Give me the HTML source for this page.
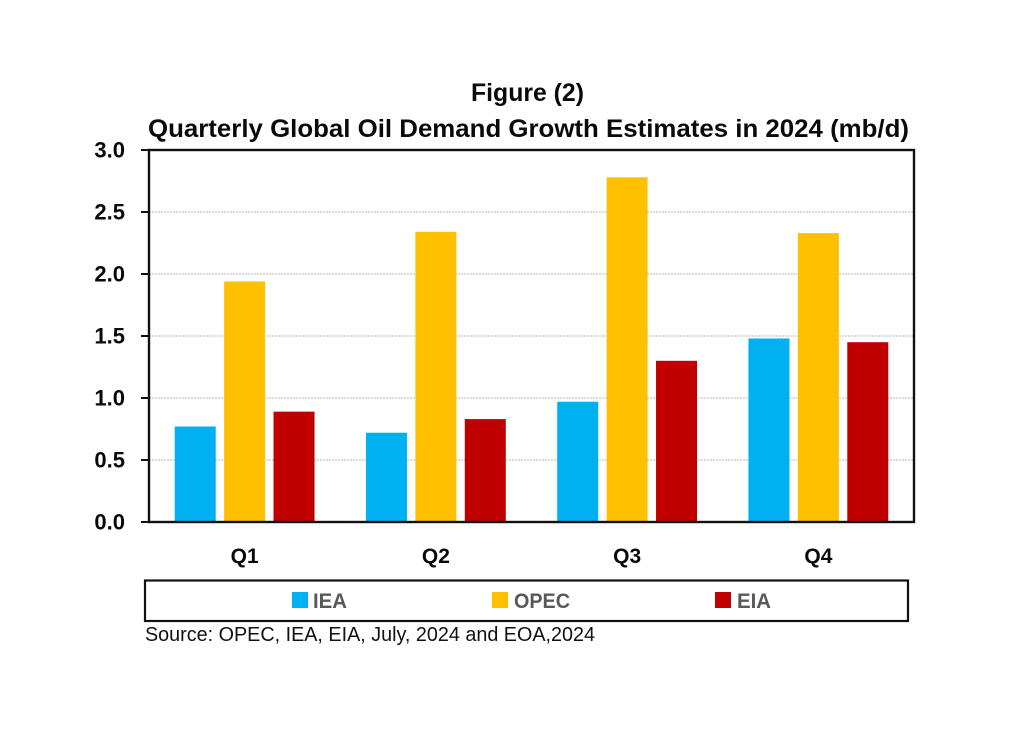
<!DOCTYPE html>
<html>
<head>
<meta charset="utf-8">
<title>Quarterly Global Oil Demand Growth Estimates in 2024</title>
<style>
html,body{margin:0;padding:0;background:#fff;}
svg{display:block;}
text{font-family:"Liberation Sans",sans-serif;}
</style>
</head>
<body>
<svg id="chart" width="1026" height="733" viewBox="0 0 1026 733" xmlns="http://www.w3.org/2000/svg">
  <text x="471" y="101" font-size="25" font-weight="700" fill="#0a0a0a" textLength="113" lengthAdjust="spacingAndGlyphs">Figure (2)</text>
  <text x="148" y="137" font-size="25" font-weight="700" fill="#0a0a0a" textLength="761" lengthAdjust="spacingAndGlyphs">Quarterly Global Oil Demand Growth Estimates in 2024 (mb/d)</text>
  <g id="plot"></g>
  <rect x="145" y="580.5" width="763" height="40.5" fill="#fff" stroke="#111" stroke-width="2.2"/>
  <g>
    <rect x="292" y="592" width="16" height="16" fill="#00b0f0"/>
    <text x="313" y="608" font-size="21" font-weight="700" fill="#595959" textLength="34" lengthAdjust="spacingAndGlyphs">IEA</text>
  </g>
  <g>
    <rect x="492" y="592" width="16" height="16" fill="#ffc000"/>
    <text x="514" y="608" font-size="21" font-weight="700" fill="#595959" textLength="56" lengthAdjust="spacingAndGlyphs">OPEC</text>
  </g>
  <g>
    <rect x="715" y="592" width="16" height="16" fill="#c00000"/>
    <text x="737" y="608" font-size="21" font-weight="700" fill="#595959" textLength="34" lengthAdjust="spacingAndGlyphs">EIA</text>
  </g>
  <text x="145" y="641" font-size="20.5" fill="#111" textLength="450" lengthAdjust="spacingAndGlyphs">Source: OPEC, IEA, EIA, July, 2024 and EOA,2024</text>
</svg>
<script>
var categories = ['Q1', 'Q2', 'Q3', 'Q4'];
var seriesNames = ['IEA', 'OPEC', 'EIA'];
var ieaValues = [0.77, 0.72, 0.97, 1.48];
var opecValues = [1.94, 2.34, 2.78, 2.33];
var eiaValues = [0.89, 0.83, 1.30, 1.45];
var yTickLabels = ['0.0', '0.5', '1.0', '1.5', '2.0', '2.5', '3.0'];

var plotLeft = 149, plotRight = 914, plotTop = 150, plotBottom = 522;
var yMax = 3;
var allSeries = [ieaValues, opecValues, eiaValues];
var colors = ['#00b0f0', '#ffc000', '#c00000'];
var NS = 'http://www.w3.org/2000/svg';
var plot = document.getElementById('plot');

function yScale(v) {
  return plotBottom - (v / yMax) * (plotBottom - plotTop);
}
function xBand(i) {
  return plotLeft + (i + 0.5) * (plotRight - plotLeft) / categories.length;
}
function make(tag, attrs) {
  var el = document.createElementNS(NS, tag);
  for (var k in attrs) el.setAttribute(k, attrs[k]);
  return el;
}

// gridlines
yTickLabels.forEach(function (label) {
  var v = parseFloat(label);
  if (v === 0 || v === yMax) return;
  var line = make('line', {x1: plotLeft, x2: plotRight, y1: yScale(v), y2: yScale(v), stroke: '#cfcfcf', 'stroke-width': 1.5, 'stroke-dasharray': '2 1'});
  
  
  plot.appendChild(line);
});

// bars
var barWidth = 41, barStep = 49.4;
categories.forEach(function (cat, i) {
  allSeries.forEach(function (vals, s) {
    var cx = xBand(i) + (s - 1) * barStep;
    var top = yScale(vals[i]);
    var bar = make('rect', {x: cx - barWidth / 2, y: top, width: barWidth, height: plotBottom - top, fill: colors[s]});
    
    
    plot.appendChild(bar);
  });
  var lab = make('text', {x: xBand(i), y: 563, 'text-anchor': 'middle', 'font-size': 21, 'font-weight': 700, fill: '#0a0a0a'});
  
  
  lab.textContent = cat;
  plot.appendChild(lab);
});

// frame
var frame = make('rect', {x: plotLeft, y: plotTop, width: plotRight - plotLeft, height: plotBottom - plotTop, fill: 'none', stroke: '#111', 'stroke-width': 2.4});


plot.appendChild(frame);

// y ticks and labels
yTickLabels.forEach(function (label) {
  var v = parseFloat(label);
  var tick = make('line', {x1: 141, x2: plotLeft, y1: yScale(v), y2: yScale(v), stroke: '#111', 'stroke-width': 2});
  
  
  plot.appendChild(tick);
  var t = make('text', {x: 125, y: yScale(v) + 7.5, 'text-anchor': 'end', 'font-size': 22, 'font-weight': 700, fill: '#0a0a0a'});
  
  
  t.textContent = label;
  plot.appendChild(t);
});
</script>
</body>
</html>
